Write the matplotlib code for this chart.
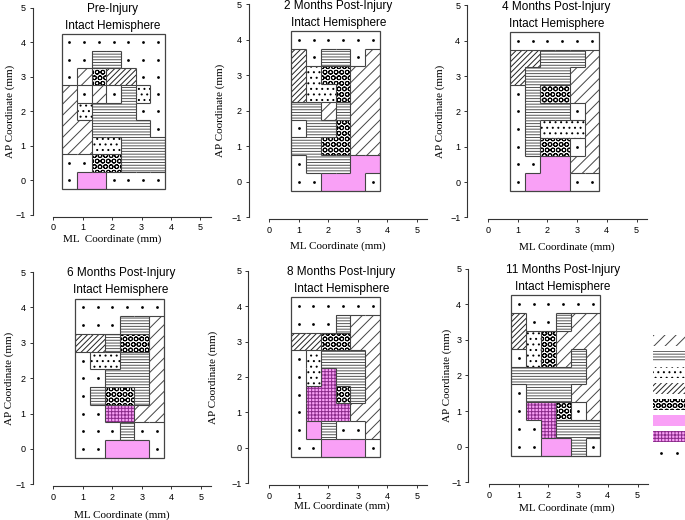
import matplotlib
matplotlib.use('Agg')
import matplotlib.pyplot as plt
from matplotlib.patches import Rectangle
from matplotlib.collections import LineCollection

# motor map codes, rows from AP 4.0 (top) down to AP 0.0
# D dot, S sparse diagonal, H horizontal, P dot pattern, X dense diagonal,
# O circles, K pink, G pink grid
pre_injury = ["DDDDDDD",
              "DDHHDDD",
              "DSOXXDD",
              "SDSDHPD",
              "SPHHHDD",
              "SSHHHHD",
              "SSPPHHH",
              "DDOOHHH",
              "DKKDDDD"]
month2 = ["DDDDDD",
          "XDHHDS",
          "XPOOSS",
          "XPPOSS",
          "HHSHSS",
          "DHHOSS",
          "HHOOSS",
          "DHHHKK",
          "DDKKKD"]
month4 = ["DDDDDD",
          "XXHHHS",
          "XHHHSS",
          "DHOOSS",
          "DHHHDS",
          "DHPPPS",
          "DHOODS",
          "DDKKSS",
          "DKKKDD"]
month6 = ["DDDDDD",
          "DDDHHS",
          "XXHOOS",
          "DPPHHS",
          "DDHHHS",
          "DHOOHS",
          "DDGGSS",
          "DDDHDD",
          "DDKKKD"]
month8 = ["DDDDDD",
          "DDDHSS",
          "XXOOSS",
          "DPHHHS",
          "DPGHHS",
          "DGGOHS",
          "DGGGSS",
          "DKHDDS",
          "DDKKKD"]
month11 = ["DDDDDD",
           "XDDHSS",
           "XPOSSS",
           "DPOSHS",
           "HHHHHS",
           "DHHHSS",
           "DGGODS",
           "DDGHHH",
           "DDKKHD"]

maps = [pre_injury, month2, month4, month6, month8, month11]
titles = ['Pre-Injury', '2 Months Post-Injury', '4 Months Post-Injury',
          '6 Months Post-Injury', '8 Months Post-Injury', '11 Months Post-Injury']
xlabels = ['ML  Coordinate (mm)'] + ['ML Coordinate (mm)'] * 5
ml_start = [0.3, 0.75, 0.75, 0.75, 0.75, 0.75]
ap_top = 4.25
cell = 0.5
legend_codes = ['S', 'H', 'P', 'X', 'O', 'K', 'G', 'D']

PINK = '#f9a0f6'
styles = {
    'D': ('white', None, 'black'),
    'S': ('white', '///', '#444444'),
    'H': ('white', '------', '#555555'),
    'P': ('white', '...', 'black'),
    'X': ('white', '//////', '#222222'),
    'O': ('white', 'OOO', 'black'),
    'K': (PINK, None, PINK),
    'G': (PINK, '+++++', '#8a2b8a'),
}

# pixel placement of each panel: x=0 pixel, px per mm, y=0 pixel, px per mm
x0 = [53.3, 269.3, 488, 53.3, 269, 489]
xs = [29.4, 29.5, 29.7, 29.5, 29.6, 29.7]
y0 = [180.3, 181.7, 182, 449, 447.7, 446.7]
ys = [34.5, 35.5, 35.3, 35.4, 35.4, 35.6]
title_x = [2.03, 2.35, 2.3, 2.3, 2.45, 2.49]
xlab = [(2.0, -1.70), (2.33, -1.81), (2.66, -1.84), (2.32, -1.86), (2.46, -1.65), (2.63, -1.72)]
ylab_x = [-1.47, -1.67, -1.62, -1.5, -1.89, -1.42]

plt.rcParams['hatch.linewidth'] = 0.7
W, H = 685, 520
fig = plt.figure(figsize=(W / 100, H / 100), dpi=100)

XL = (-0.7, 5.45)
YL = (-1.05, 5.05)

for i, grid in enumerate(maps):
    left = x0[i] + XL[0] * xs[i]
    right = x0[i] + XL[1] * xs[i]
    top = y0[i] - YL[1] * ys[i]
    bottom = y0[i] - YL[0] * ys[i]
    ax = fig.add_axes([left / W, 1 - bottom / H, (right - left) / W, (bottom - top) / H])
    ax.set_xlim(*XL)
    ax.set_ylim(*YL)

    nr, nc = len(grid), len(grid[0])
    segs = []
    dots_x, dots_y = [], []
    for r in range(nr):
        for c in range(nc):
            code = grid[r][c]
            fc, hatch, hc = styles[code]
            x = ml_start[i] + c * cell
            y = ap_top - (r + 1) * cell
            ax.add_patch(Rectangle((x, y), cell, cell, facecolor=fc, edgecolor=hc,
                                   hatch=hatch, lw=0, zorder=1))
            if code == 'D':
                dots_x.append(x + cell / 2)
                dots_y.append(y + cell / 2)
            if c + 1 < nc and grid[r][c + 1] != code:
                segs.append([(x + cell, y), (x + cell, y + cell)])
            if r + 1 < nr and grid[r + 1][c] != code:
                segs.append([(x, y), (x + cell, y)])
    ax.add_collection(LineCollection(segs, colors='#444444', linewidths=0.8, zorder=3))
    ax.add_patch(Rectangle((ml_start[i], ap_top - nr * cell), nc * cell, nr * cell,
                           fill=False, edgecolor='#444444', lw=0.9, zorder=3))
    ax.scatter(dots_x, dots_y, s=4, color='black', zorder=4, linewidths=0)

    for side in ['top', 'right']:
        ax.spines[side].set_visible(False)
    ax.spines['left'].set_bounds(-1, 5)
    ax.spines['bottom'].set_bounds(0, 5.35)
    for side in ['left', 'bottom']:
        ax.spines[side].set_linewidth(0.8)
        ax.spines[side].set_color('#333333')
    ax.set_xticks(range(0, 6))
    ax.set_yticks(range(-1, 6))
    ax.tick_params(direction='out', length=2.5, width=0.7, labelsize=6.5, pad=2.5,
                   colors='#333333')
    for lbl in ax.get_xticklabels() + ax.get_yticklabels():
        lbl.set_fontfamily('Liberation Sans')
        lbl.set_color('black')

    ax.text(title_x[i], 4.96, titles[i], ha='center', va='center',
            fontsize=8.5, family='Liberation Sans')
    ax.text(title_x[i], 4.48, 'Intact Hemisphere', ha='center', va='center',
            fontsize=8.5, family='Liberation Sans')
    ax.text(xlab[i][0], xlab[i][1], xlabels[i], ha='center', va='center',
            fontsize=8, family='Liberation Serif', clip_on=False)
    ax.text(ylab_x[i], 2.0, 'AP Coordinate (mm)', ha='center', va='center', rotation=90,
            fontsize=8, family='Liberation Serif', clip_on=False)

# legend swatches at the right edge
lax = fig.add_axes([653 / W, 1 - 461 / H, 32 / W, 128 / H])
lax.set_xlim(0, 1)
lax.set_ylim(0, 8)
lax.axis('off')
for k, code in enumerate(legend_codes):
    fc, hatch, hc = styles[code]
    yb = 8 - (k + 1) + 0.2
    if code == 'D':
        lax.scatter([0.25, 0.75], [yb + 0.3, yb + 0.3], s=4, color='black', linewidths=0)
    else:
        lax.add_patch(Rectangle((0, yb), 1.2, 0.65, facecolor=fc, edgecolor=hc,
                                hatch=hatch, lw=0))

fig.savefig('out.png', dpi=100)
